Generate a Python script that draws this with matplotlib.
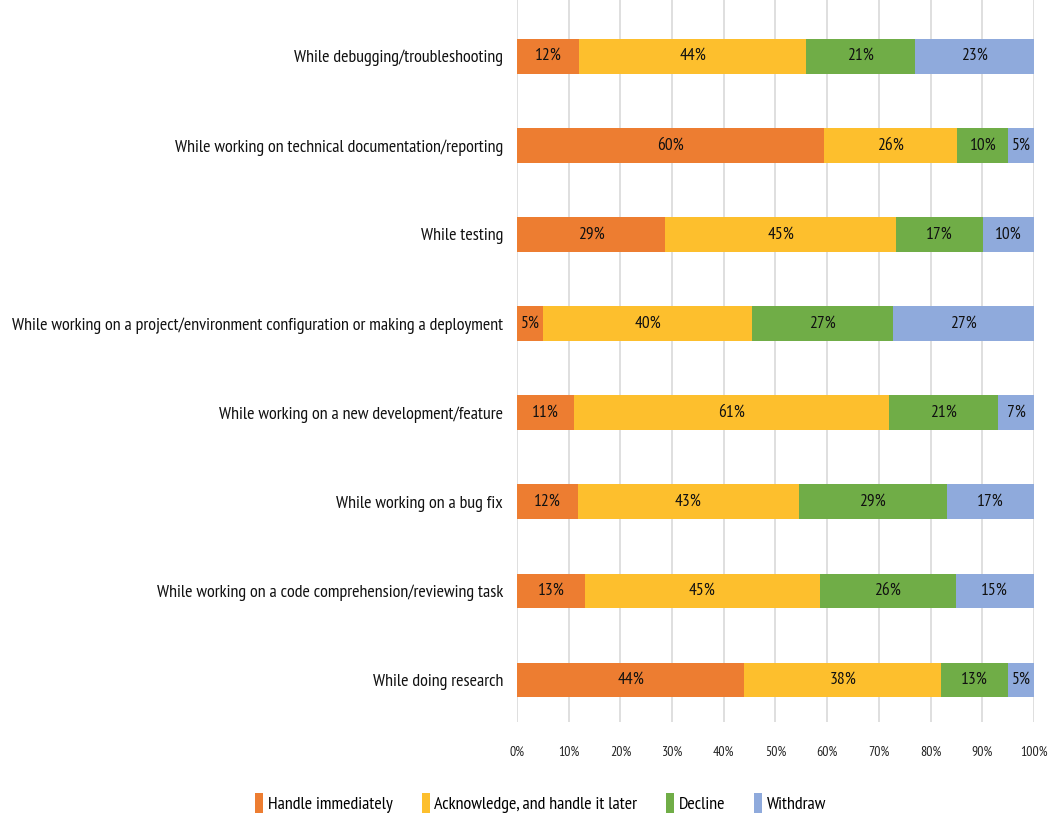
import numpy as np
import matplotlib
import matplotlib.pyplot as plt

matplotlib.use('agg')

plt.rcParams['font.family'] = ['PT Sans Narrow', 'DejaVu Sans']

# =============================================================================
# survey answers, one row per situation (top to bottom)
situations = [
    'While debugging/troubleshooting',
    'While working on technical documentation/reporting',
    'While testing',
    'While working on a project/environment configuration or making a deployment',
    'While working on a new development/feature',
    'While working on a bug fix',
    'While working on a code comprehension/reviewing task',
    'While doing research',
]
handle_now = [12, 60, 29, 5, 11, 12, 13, 44]
handle_later = [44, 26, 45, 40, 61, 43, 45, 38]
decline = [21, 10, 17, 27, 21, 29, 26, 13]
withdraw = [23, 5, 10, 27, 7, 17, 15, 5]

answers = ['Handle immediately', 'Acknowledge, and handle it later', 'Decline', 'Withdraw']
colors = ['#ED7D31', '#FDBF2D', '#70AD47', '#8FAADC']
# =============================================================================

series = np.array([handle_now, handle_later, decline, withdraw], dtype=float)
totals = series.sum(axis=0)
shares = series / totals * 100  # 100% stacked, like the spreadsheet chart

fig = plt.figure(figsize=(10.54, 8.17), dpi=100)
ax = fig.add_axes([0.4905, 0.1163, 0.4905, 0.8837])

y = np.arange(len(situations))
left = np.zeros(len(situations))
for k in range(len(answers)):
    bars = ax.barh(y, shares[k], left=left, height=0.39, color=colors[k],
                   label=answers[k], zorder=2)
    for b, v in zip(bars, series[k]):
        ax.text(b.get_x() + b.get_width() / 2, b.get_y() + b.get_height() / 2,
                '%d%%' % v, ha='center', va='center', fontsize=12.5, color='#111111')
    left += shares[k]

ax.set_xlim(0, 100)
ax.set_ylim(7.47, -0.63)
ax.set_xticks(np.arange(0, 101, 10))
ax.set_xticklabels(['%d%%' % t for t in range(0, 101, 10)], fontsize=10, color='#222222')
ax.set_yticks(y)
ax.set_yticklabels(situations, fontsize=13, color='#111111')
ax.tick_params(axis='both', length=0)
ax.tick_params(axis='x', pad=17)
ax.tick_params(axis='y', pad=10)
ax.grid(axis='x', color='#D9D9D9', linewidth=1.2, zorder=0)
for s in ax.spines.values():
    s.set_visible(False)

fig.legend(loc='center', bbox_to_anchor=(0.513, 0.017), ncol=4, frameon=False,
           fontsize=13, handlelength=0.45, handleheight=1.3, handletextpad=0.25,
           columnspacing=1.6)

plt.savefig('out.png', dpi=100)
